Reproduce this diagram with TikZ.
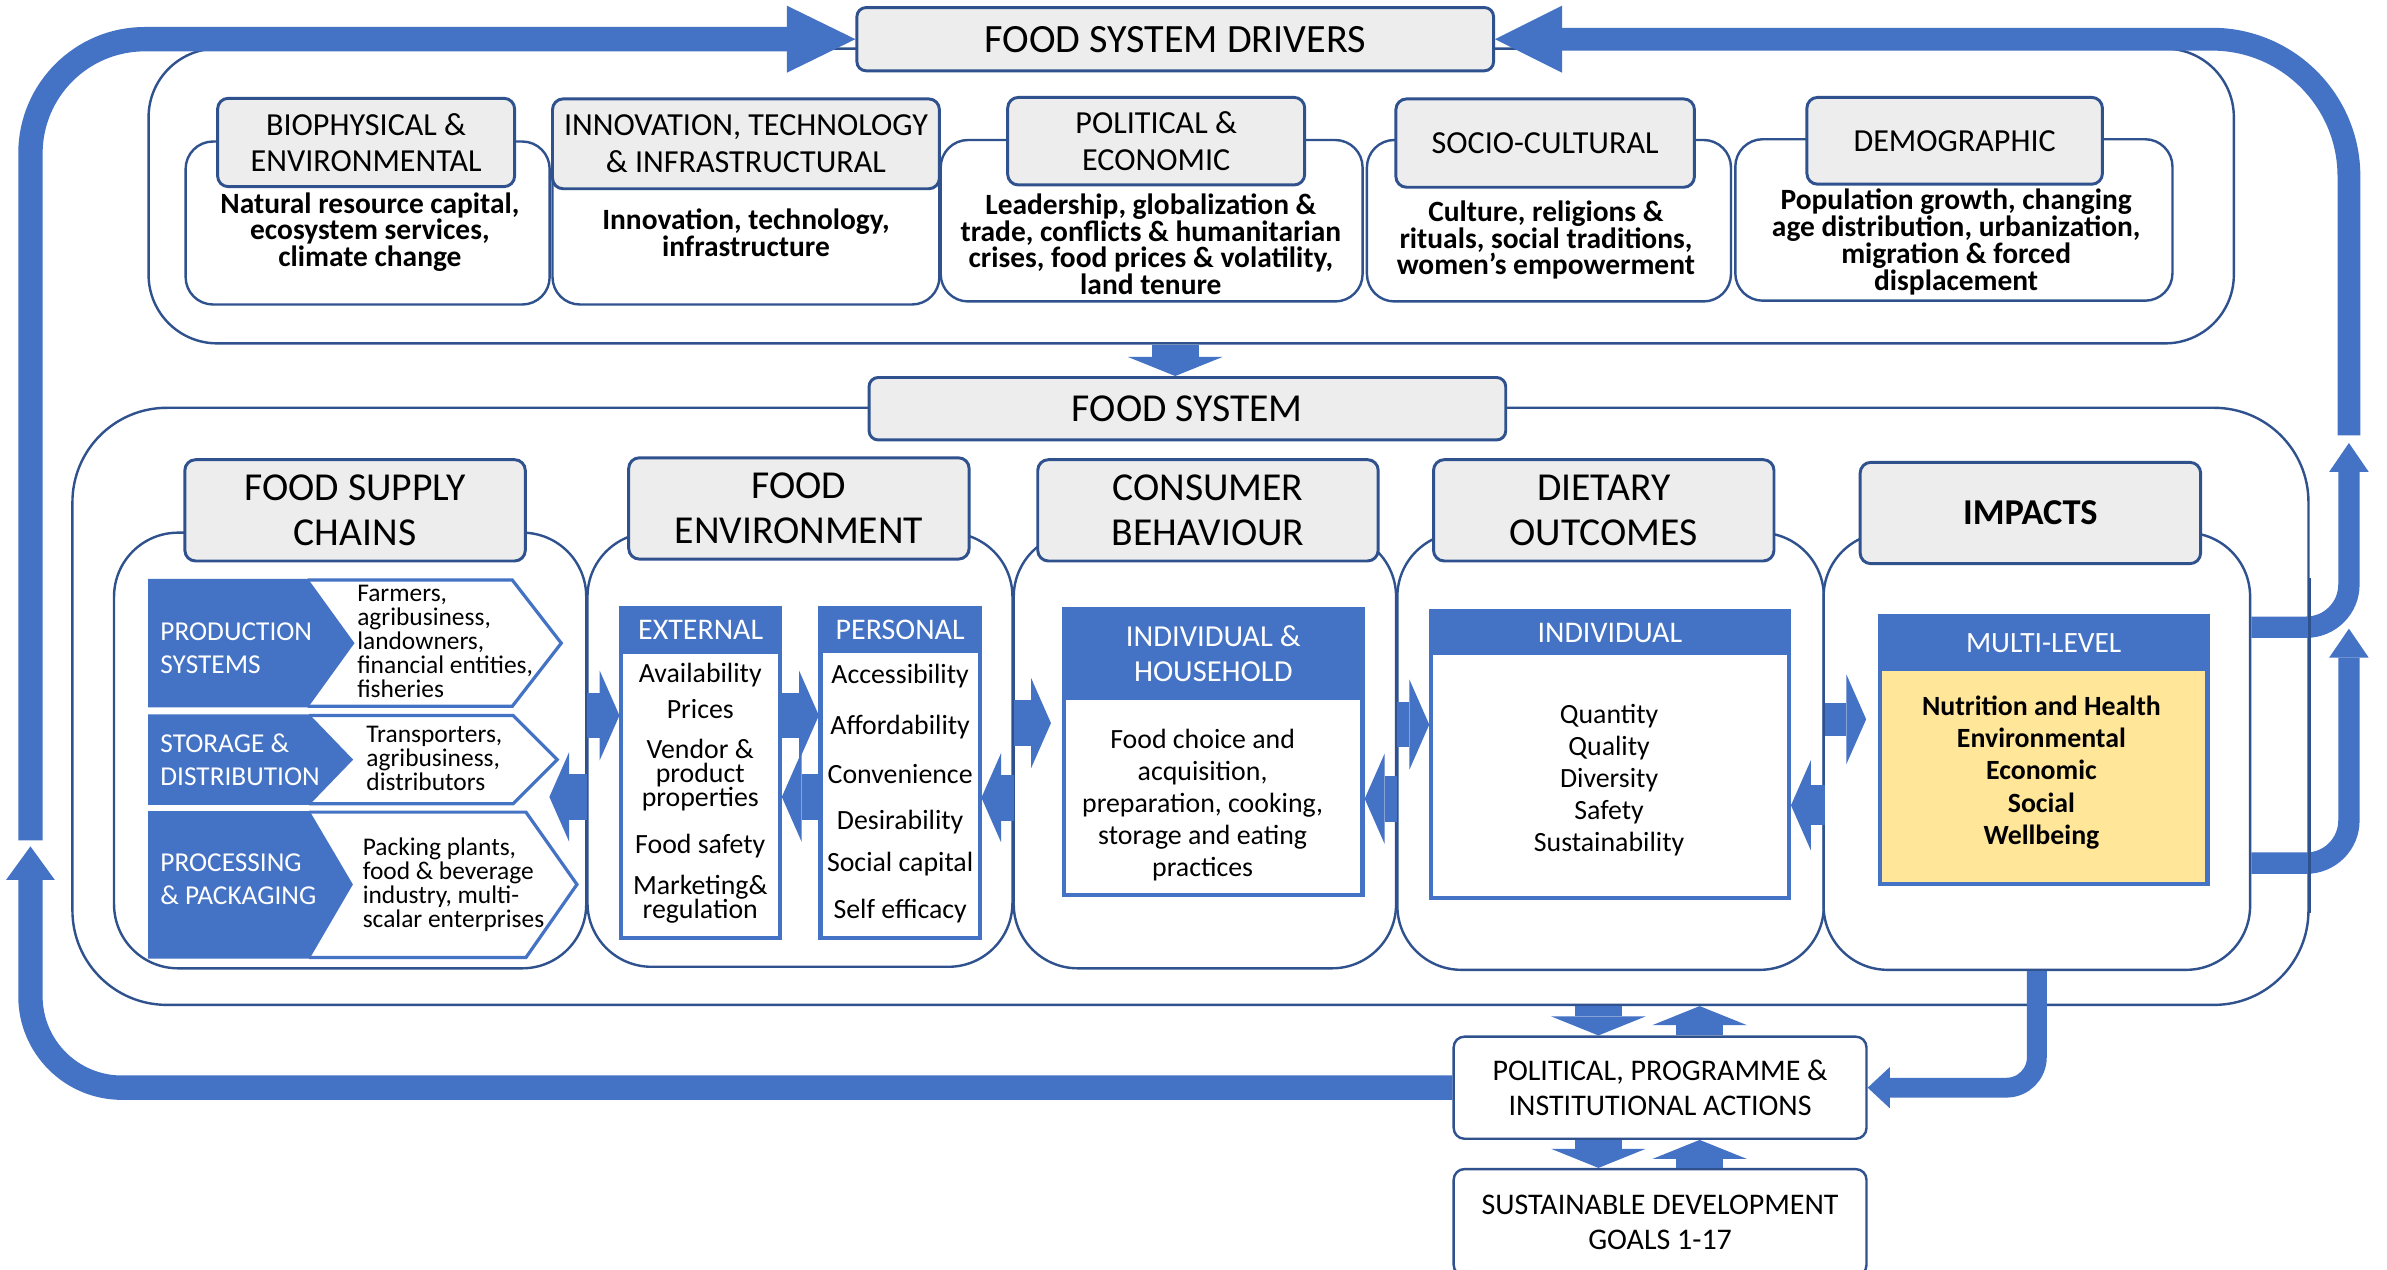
\documentclass[tikz,border=0pt]{standalone}
\usepackage{fontspec}
\setmainfont{Carlito}
\usepackage{tikz}
\usetikzlibrary{arrows.meta}
\usetikzlibrary{calc}

\definecolor{bandblue}{HTML}{4472C4}
\definecolor{edgeblue}{HTML}{2F528F}
\definecolor{headgray}{HTML}{EDEDED}
\definecolor{impyellow}{HTML}{FFE699}

\newcommand{\fsz}[2]{\fontsize{#1}{#2}\selectfont\lineskiplimit=-5pt}

\begin{document}
\begin{tikzpicture}[x=0.01cm, y=-0.01cm,
	roundbox/.style={draw=edgeblue, line width=0.45pt, fill=white, rounded corners=#1, inner sep=0pt},
	headbox/.style={draw=edgeblue, line width=0.55pt, fill=headgray, rounded corners=0.07cm, inner sep=0pt, align=center, font=\fsz{6}{6.8}},
	colhead/.style={headbox, font=\fsz{7.4}{8.4}, minimum width=2.235cm, minimum height=0.665cm},
	drvtxt/.style={inner sep=0pt, align=center, font=\bfseries\fsz{5.5}{5}},
	bluehead/.style={draw=bandblue, fill=bandblue, text=white, inner sep=0pt, align=center, line width=0.6pt},
	whitebody/.style={draw=bandblue, fill=white, inner sep=0pt, line width=0.8pt},
	listtxt/.style={inner sep=0pt, align=center, font=\fsz{5.2}{4.5}},
	chevhead/.style={inner sep=0pt, align=left, anchor=west, text=white, font=\fsz{5.1}{6.1}},
	chevtxt/.style={inner sep=0pt, align=left, anchor=west, font=\fsz{4.75}{4.5}},
	band/.style={draw=bandblue, line width=0.16cm},
	fatarrow/.style={draw=bandblue, line width=0.31cm, -{Triangle[length=0.125cm, width=0.62cm, line width=0pt]}},
	blk/.style={draw=bandblue, line width=0.3cm, -{Triangle[length=0.13cm, width=0.59cm, line width=0pt]}},
	]
	\useasboundingbox (0,0) rectangle (1568,834);
	\fill[white] (0,0) rectangle (1568,834);

	% drivers
	\node[roundbox=0.45cm, minimum width=13.69cm, minimum height=1.935cm] (drv) at (782.5,128.75) {};

	\node[roundbox=0.18cm, minimum width=2.39cm, minimum height=1.07cm] (d1) at (241.5,146.5) {};
	\node[roundbox=0.18cm, minimum width=2.54cm, minimum height=1.07cm] (d2) at (490,146.5) {};
	\node[roundbox=0.18cm, minimum width=2.77cm, minimum height=1.06cm] (d3) at (756.5,145) {};
	\node[roundbox=0.18cm, minimum width=2.39cm, minimum height=1.06cm] (d4) at (1017.5,145) {};
	\node[roundbox=0.18cm, minimum width=2.87cm, minimum height=1.06cm] (d5) at (1283.5,144.5) {};

	\node[headbox, minimum width=1.95cm, minimum height=0.58cm] (d1h) at (240.5,93.6) {BIOPHYSICAL \&\\ENVIRONMENTAL};
	\node[headbox, minimum width=2.54cm, minimum height=0.59cm] (d2h) at (490,94.5) {INNOVATION, TECHNOLOGY\\\& INFRASTRUCTURAL};
	\node[headbox, minimum width=1.95cm, minimum height=0.575cm] (d3h) at (759.5,92.75) {POLITICAL \&\\ECONOMIC};
	\node[headbox, minimum width=1.96cm, minimum height=0.58cm] (d4h) at (1015,94) {SOCIO-CULTURAL};
	\node[headbox, minimum width=1.94cm, minimum height=0.57cm] (d5h) at (1284,92.5) {DEMOGRAPHIC};

	\node[drvtxt] (d1t) at (243,152.5) {Natural resource capital,\\ecosystem services,\\climate change};
	\node[drvtxt] (d2t) at (490,153) {Innovation, technology,\\infrastructure};
	\node[drvtxt] (d3t) at (756,160.5) {Leadership, globalization \&\\trade, conflicts \& humanitarian\\crises, food prices \& volatility,\\land tenure};
	\node[drvtxt] (d4t) at (1015.5,157.7) {Culture, religions \&\\rituals, social traditions,\\women’s empowerment};
	\node[drvtxt] (d5t) at (1285,159) {Population growth, changing\\age distribution, urbanization,\\migration \& forced\\displacement};

	\node[headbox, font=\fsz{7.5}{9}, minimum width=4.18cm, minimum height=0.415cm, rounded corners=0.06cm] (fsd) at (772,25.75) {FOOD SYSTEM DRIVERS};

	% feedback loop to the drivers
	\coordinate (lup) at (20,552);
	\coordinate (lbot) at (20,556);
	\coordinate (rtop) at (1543,286);
	\draw[band, rounded corners=0.75cm, -{Triangle[length=0.45cm, width=0.44cm, line width=0pt]}] (lup) -- (20,25.75) -- (fsd.west);
	\draw[band, line width=0.15cm, rounded corners=0.9cm, -{Triangle[length=0.44cm, width=0.44cm, line width=0pt]}] (rtop) -- (1543,25.75) -- (fsd.east);

	% food system
	\node[roundbox=0.62cm, minimum width=14.68cm, minimum height=3.92cm] (fsys) at (782,464) {};
	\node[headbox, font=\fsz{7.4}{9}, minimum width=4.18cm, minimum height=0.41cm, rounded corners=0.06cm] (fs) at (780,268.5) {FOOD SYSTEM};
	\draw[fatarrow] (drv.south -| fsd.south) -- (fs.north -| fsd.south);

	\node[roundbox=0.42cm, minimum width=3.10cm, minimum height=2.86cm] (c1) at (230,493) {};
	\node[roundbox=0.42cm, minimum width=2.79cm, minimum height=2.85cm] (c2) at (525.5,492.5) {};
	\node[roundbox=0.42cm, minimum width=2.51cm, minimum height=2.86cm] (c3) at (791.5,493) {};
	\node[roundbox=0.42cm, minimum width=2.80cm, minimum height=2.87cm] (c4) at (1058,493.5) {};
	\node[roundbox=0.42cm, minimum width=2.80cm, minimum height=2.87cm] (c5) at (1338,493.5) {};

	\node[colhead] (h1) at (233.25,335.25) {FOOD SUPPLY\\CHAINS};
	\node[colhead] (h2) at (524.8,334) {FOOD\\ENVIRONMENT};
	\node[colhead] (h3) at (793.5,335.25) {CONSUMER\\BEHAVIOUR};
	\node[colhead] (h4) at (1053.5,335.25) {DIETARY\\OUTCOMES};
	\node[colhead, font=\bfseries\fsz{6.8}{8}] (h5) at (1333.75,337) {IMPACTS};

	% supply chain chevrons
	\filldraw[bandblue, line width=0.4pt] (98,381) -- (202,381) -- (232,422.5) -- (202,464) -- (98,464) -- cycle;
	\draw[bandblue, line width=0.6pt] (202,381) -- (336.5,381) -- (368.7,422.5) -- (336.5,464) -- (202,464);
	\filldraw[bandblue, line width=0.4pt] (98,470) -- (203,470) -- (231,499) -- (203,528) -- (98,528) -- cycle;
	\draw[bandblue, line width=0.6pt] (203,470) -- (337,470) -- (366,499) -- (337,528) -- (203,528);
	\filldraw[bandblue, line width=0.4pt] (98,533.5) -- (203,533.5) -- (231,581) -- (203,629) -- (98,629) -- cycle;
	\draw[bandblue, line width=0.6pt] (203,533.5) -- (345.5,533.5) -- (379,581) -- (345.5,629) -- (203,629);

	\node[chevhead] (r1a) at (104.7,426) {PRODUCTION\\SYSTEMS};
	\node[chevtxt] (r1b) at (234,421.5) {Farmers,\\agribusiness,\\landowners,\\financial entities,\\fisheries};
	\node[chevhead] (r2a) at (104.7,499) {STORAGE \&\\DISTRIBUTION};
	\node[chevtxt] (r2b) at (240,498.3) {Transporters,\\agribusiness,\\distributors};
	\node[chevhead] (r3a) at (104.7,577.5) {PROCESSING\\\& PACKAGING};
	\node[chevtxt] (r3b) at (237.6,581.2) {Packing plants,\\food \& beverage\\industry, multi-\\scalar enterprises};

	% food environment
	\node[whitebody, minimum width=1.045cm, minimum height=2.165cm] (extb) at (460.25,507.75) {};
	\node[bluehead, minimum width=1.045cm, minimum height=0.29cm, font=\fsz{5.6}{6}] (ext) at (460.25,414) {EXTERNAL};
	\node[listtxt] (e1) at (460,443.7) {Availability};
	\node[listtxt] (e2) at (460,465.7) {Prices};
	\node[listtxt] (e3) at (460,509) {Vendor \&\\product\\properties};
	\node[listtxt] (e4) at (460,555.6) {Food safety};
	\node[listtxt] (e5) at (460,590.7) {Marketing\&\\regulation};

	\node[whitebody, minimum width=1.046cm, minimum height=2.165cm] (perb) at (591.3,507.75) {};
	\node[bluehead, minimum width=1.046cm, minimum height=0.285cm, font=\fsz{5.6}{6}] (per) at (591.3,413.75) {PERSONAL};
	\node[listtxt] (p1) at (591.3,444) {Accessibility};
	\node[listtxt] (p2) at (591.3,477.6) {Affordability};
	\node[listtxt] (p3) at (591.3,508.5) {Convenience};
	\node[listtxt] (p4) at (591.3,540) {Desirability};
	\node[listtxt] (p5) at (591.3,567.5) {Social capital};
	\node[listtxt] (p6) at (591.3,598.5) {Self efficacy};

	% consumer behaviour
	\node[whitebody, minimum width=1.96cm, minimum height=1.88cm] (ihb) at (797,494) {};
	\node[bluehead, minimum width=1.96cm, minimum height=0.59cm, font=\fsz{5.7}{6.5}] (ih) at (797,429.5) {INDIVIDUAL \&\\HOUSEHOLD};
	\node[listtxt, font=\fsz{5.2}{6}] (iht) at (790,529) {Food choice and\\acquisition,\\preparation, cooking,\\storage and eating\\practices};

	% dietary outcomes
	\node[whitebody, minimum width=2.35cm, minimum height=1.885cm] (indb) at (1057.5,495.75) {};
	\node[bluehead, minimum width=2.35cm, minimum height=0.28cm, font=\fsz{5.6}{6}] (ind) at (1057.5,415.5) {INDIVIDUAL};
	\node[listtxt, font=\fsz{5.2}{6}] (indt) at (1057,512.5) {Quantity\\Quality\\Diversity\\Safety\\Sustainability};

	% impacts
	\node[whitebody, fill=impyellow, minimum width=2.15cm, minimum height=1.757cm] (mlb) at (1342.5,492.65) {};
	\node[bluehead, minimum width=2.15cm, minimum height=0.347cm, font=\fsz{5.5}{6}] (ml) at (1342.5,422.2) {MULTI-LEVEL};
	\node[listtxt, font=\bfseries\fsz{5.2}{6}] (mlt) at (1341,507.5) {Nutrition and Health\\Environmental\\Economic\\Social\\Wellbeing};

	% arrows between the columns
	\draw[blk] (c1.east |- 0,470) -- (ext.west |- 0,470);
	\draw[blk] (c1.east |- 0,523.5) -- ++(-25,0);
	\draw[blk] (ext.east |- 0,470) -- (per.west |- 0,470);
	\draw[blk] (per.west |- 0,523.5) -- (ext.east |- 0,523.5);
	\draw[blk] (c2.east |- 0,475) -- ++(24.5,0);
	\draw[blk] (c2.east |- 0,524) -- (per.east |- 0,524);
	\draw[blk] (c3.east |- 0,476) -- (ind.west |- 0,476);
	\draw[blk] (c3.east |- 0,524.7) -- (ihb.east |- 0,524.7);
	\draw[blk, line width=0.22cm] (c4.east |- 0,472.5) -- ++(27,0);
	\draw[blk, line width=0.26cm] (c4.east |- 0,529) -- (indb.east |- 0,529);

	% impacts back to the drivers
	\draw[band, line width=0.14cm, rounded corners=0.28cm, -{Triangle[length=0.19cm, width=0.26cm, line width=0pt]}] (c5.east |- 0,412) -- (1543,412) -- (1543,291);
	\draw[band, line width=0.14cm, rounded corners=0.28cm, -{Triangle[length=0.19cm, width=0.26cm, line width=0pt]}] (c5.east |- 0,567) -- (1543,567) -- (1543,413);
	\draw[edgeblue, line width=0.45pt] (fsys.east |- 0,380) -- (fsys.east |- 0,600);

	% actions
	\node[roundbox=0.07cm, minimum width=2.71cm, minimum height=0.67cm, align=center, font=\fsz{5.6}{6.5}] (ppi) at (1090.5,714.5) {POLITICAL, PROGRAMME \&\\INSTITUTIONAL ACTIONS};
	\node[roundbox=0.07cm, minimum width=2.71cm, minimum height=0.70cm, align=center, font=\fsz{5.6}{6.5}] (sdg) at (1090.5,803) {SUSTAINABLE DEVELOPMENT\\GOALS 1-17};

	\draw[band, rounded corners=0.6cm, -{Triangle[length=0.22cm, width=0.32cm, line width=0pt]}] (ppi.west) -- (20,714.5) -- (lbot);
	\draw[band, line width=0.13cm, rounded corners=0.2cm, -{Triangle[length=0.145cm, width=0.27cm, line width=0pt]}] (c5.south) -- (c5.south |- ppi.east) -- (ppi.east);

	\draw[fatarrow] (fsys.south -| 1050,0) -- (ppi.north -| 1050,0);
	\draw[fatarrow] (ppi.north -| 1116.5,0) -- (fsys.south -| 1116.5,0);
	\draw[fatarrow] (ppi.south -| 1050,0) -- (sdg.north -| 1050,0);
	\draw[fatarrow] (sdg.north -| 1116.5,0) -- (ppi.south -| 1116.5,0);
\end{tikzpicture}
\end{document}
